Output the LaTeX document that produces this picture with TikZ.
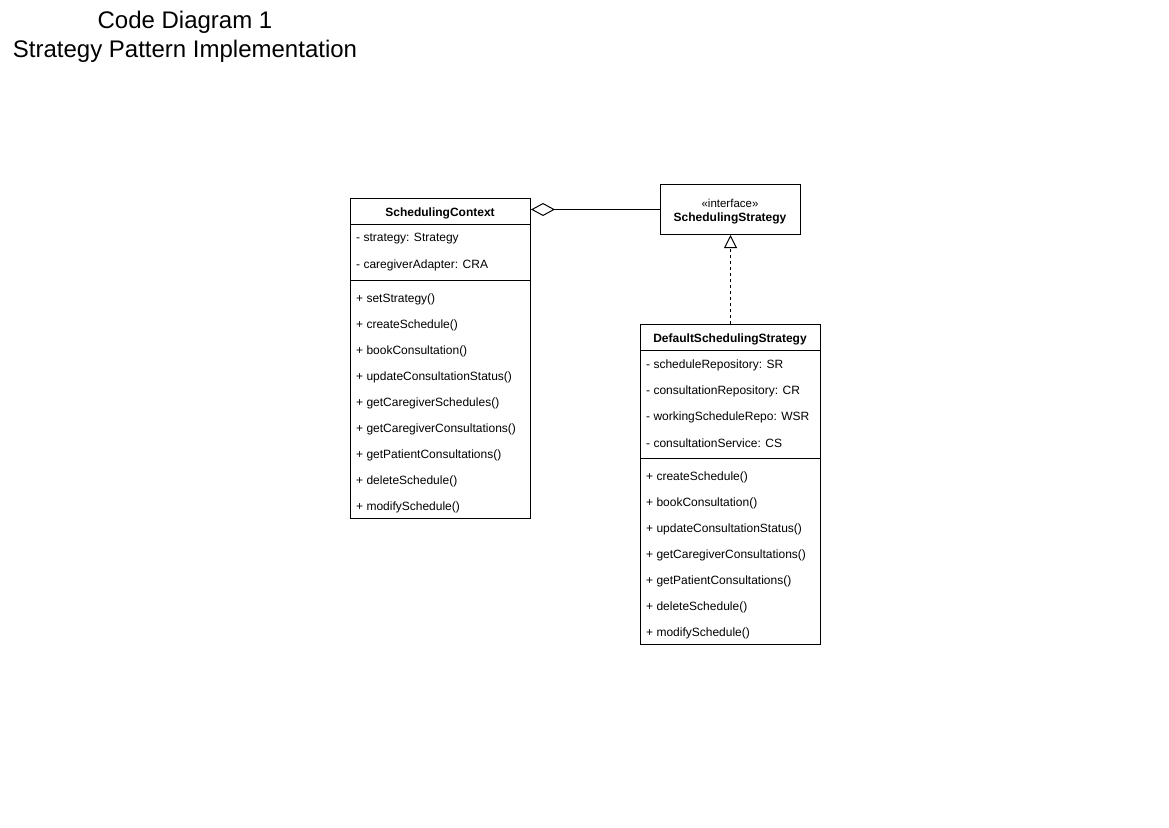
\documentclass[tikz,border=0pt]{standalone}
\usepackage{fontspec}
\setmainfont{Liberation Sans}
\usetikzlibrary{arrows.meta,positioning}
\tikzset{
  classbox/.style={draw,line width=1pt,rectangle,inner sep=0pt,anchor=north west},
  classname/.style={font=\fontsize{12}{14}\selectfont\bfseries,inner sep=0pt},
  stereo/.style={font=\fontsize{11.5}{13}\selectfont,inner sep=0pt},
  member/.style={font=\fontsize{12}{14}\selectfont,anchor=west,inner sep=0pt},
  sepline/.style={line width=1pt},
  titletext/.style={font=\fontsize{24}{28}\selectfont,inner sep=0pt},
  aggr/.style={line width=1pt,{Diamond[open,length=24pt,width=13pt]}-},
  realize/.style={line width=1pt,dash pattern=on 3pt off 3pt,-{Triangle[open,length=13pt,width=13pt]}}
}
\begin{document}
\begin{tikzpicture}[x=1pt,y=-1pt]
  \useasboundingbox (0,0) rectangle (1169,827);

  % title
  \node[titletext] (title1) at (185,22) {Code Diagram 1};
  \node[titletext] (title2) at (185,51) {Strategy Pattern Implementation};

  % context class
  \node[classbox,minimum width=180pt,minimum height=320pt] (ctx) at (350,198) {};
  \node[classname] (ctxname) at (440,213) {SchedulingContext};
  \draw[sepline] (350,224) -- (530,224);
  \draw[sepline] (350,280) -- (530,280);
  \foreach \txt [count=\i] in {- strategy: Strategy, - caregiverAdapter: CRA}
    \node[member] (ctxattr\i) at (356,213+26*\i) {\txt};
  \foreach \txt [count=\i] in {+ setStrategy(), + createSchedule(), + bookConsultation(),
      + updateConsultationStatus(), + getCaregiverSchedules(), + getCaregiverConsultations(),
      + getPatientConsultations(), + deleteSchedule(), + modifySchedule()}
    \node[member] (ctxop\i) at (356,273+26*\i) {\txt};

  % interface
  \node[classbox,minimum width=140pt,minimum height=50pt] (iface) at (660,184) {};
  \node[stereo] (ifacestereo) at (730,203) {«interface»};
  \node[classname] (ifacename) at (730,218) {SchedulingStrategy};

  % concrete strategy
  \node[classbox,minimum width=180pt,minimum height=320pt] (impl) at (640,324) {};
  \node[classname] (implname) at (730,339) {DefaultSchedulingStrategy};
  \draw[sepline] (640,350) -- (820,350);
  \draw[sepline] (640,458) -- (820,458);
  \foreach \txt [count=\i] in {- scheduleRepository: SR, - consultationRepository: CR,
      - workingScheduleRepo: WSR, - consultationService: CS}
    \node[member] (implattr\i) at (646,339+26*\i) {\txt};
  \foreach \txt [count=\i] in {+ createSchedule(), + bookConsultation(),
      + updateConsultationStatus(), + getCaregiverConsultations(),
      + getPatientConsultations(), + deleteSchedule(), + modifySchedule()}
    \node[member] (implop\i) at (646,451+26*\i) {\txt};

  % relations
  \draw[aggr] (ctx.north east |- iface.west) -- (iface.west);
  \draw[realize] (impl.north) -- (iface.south);
\end{tikzpicture}
\end{document}
